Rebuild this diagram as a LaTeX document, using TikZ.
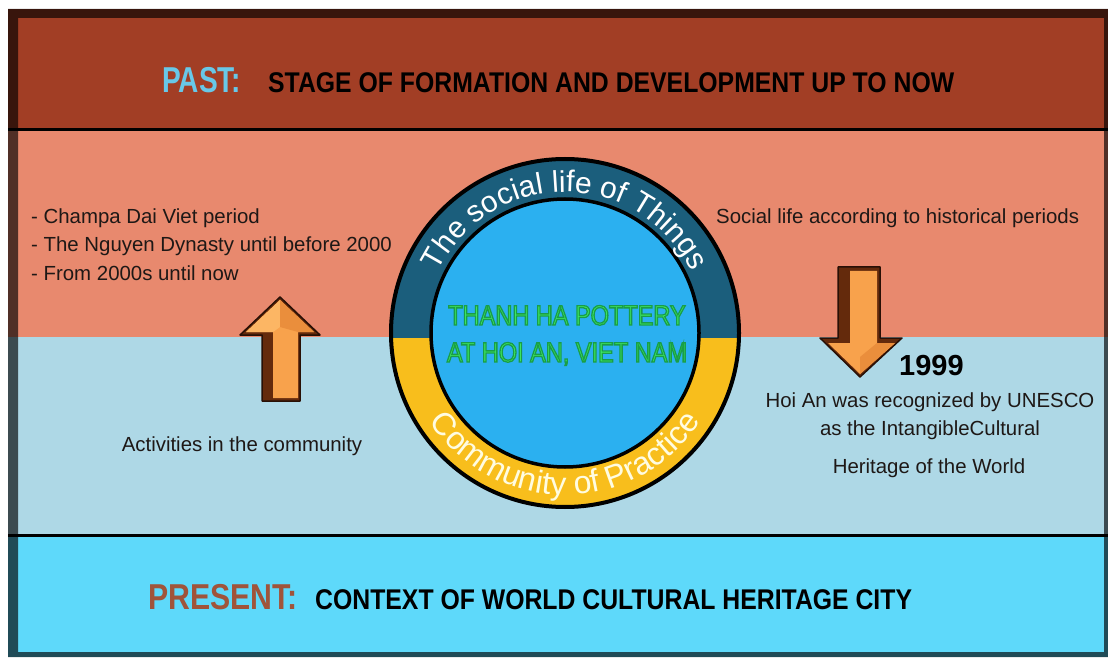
\documentclass[tikz,border=0pt]{standalone}
\usepackage{fontspec}
\setmainfont{Liberation Sans}
\newfontfamily\tagpast[FakeStretch=0.78]{Liberation Sans Bold}
\newfontfamily\tagpresent[FakeStretch=0.84]{Liberation Sans Bold}
\newfontfamily\narrowbf[FakeStretch=0.87]{Liberation Sans Bold}
\newfontfamily\potfont[FakeStretch=0.84]{Liberation Sans}
\usetikzlibrary{decorations.text}

% outlined lettering: fill with the current colour, stroke in dark green
\newcommand{\edgedtext}[1]{\special{pdf:literal direct 2 Tr 1.3 w 0.1 0.62 0.28 RG}#1\special{pdf:literal direct 0 Tr}}

\definecolor{pastband}{RGB}{162,62,37}
\definecolor{salmon}{RGB}{232,137,110}
\definecolor{paleblue}{RGB}{174,216,230}
\definecolor{cyanband}{RGB}{94,217,250}
\definecolor{ringteal}{RGB}{27,94,124}
\definecolor{ringgold}{RGB}{248,190,28}
\definecolor{poolblue}{RGB}{43,176,240}
\definecolor{potgreen}{RGB}{66,240,102}
\definecolor{pastcol}{RGB}{104,200,232}
\definecolor{presentcol}{RGB}{160,84,58}
\definecolor{bodyink}{RGB}{30,24,22}
\definecolor{rimbrown}{RGB}{100,42,12}
\definecolor{rimline}{RGB}{40,16,6}
\definecolor{faceorange}{RGB}{248,162,76}
\definecolor{facelight}{RGB}{252,182,100}
\definecolor{faceshade}{RGB}{234,142,60}
\definecolor{creamtext}{RGB}{255,252,225}

\begin{document}
\begin{tikzpicture}[x=1pt,y=1pt,
  bodytext/.style={font=\fontsize{20.4}{24}\selectfont, text=bodyink, inner sep=0pt},
  headtag/.style={inner sep=0pt, anchor=base west},
  headtext/.style={font=\narrowbf\fontsize{28.5}{32}\selectfont, inner sep=0pt, anchor=base west, text=black},
  pottext/.style={font=\potfont\fontsize{28}{30}\selectfont, inner sep=0pt, anchor=base, text=potgreen},
  arrowrim/.style={fill=rimbrown, draw=rimline, line width=1.5pt, line join=round},
  arrowface/.style={fill=faceorange},
  rule/.style={line width=3pt, draw=black}
]
\useasboundingbox (0,0) rectangle (1108,657);
\fill[white] (0,0) rectangle (1108,657);

% horizontal bands
\fill[pastband] (8,527) rectangle (1108,648);
\fill[salmon] (8,320) rectangle (1108,527);
\fill[paleblue] (8,122) rectangle (1108,320);
\fill[cyanband] (8,0) rectangle (1108,122);
\coordinate (r1w) at (8,527); \coordinate (r1e) at (1108,527);
\coordinate (r2w) at (8,122); \coordinate (r2e) at (1108,122);
\draw[rule] (r1w) -- (r1e);
\draw[rule] (r2w) -- (r2e);

% darkened frame
\fill[black, opacity=0.65, even odd rule] (8,0) rectangle (1108,648) (18,5) rectangle (1104,639);

% titles
\node[headtag, font=\tagpast\fontsize{36}{40}\selectfont, text=pastcol] (pasttag) at (162,564) {PAST:};
\node[headtext] (pasttext) at (268,564) {STAGE OF FORMATION AND DEVELOPMENT UP TO NOW};
\node[headtag, font=\tagpresent\fontsize{36}{40}\selectfont, text=presentcol] (presenttag) at (148,48) {PRESENT:};
\node[headtext] (presenttext) at (315,48) {CONTEXT OF WORLD CULTURAL HERITAGE CITY};

% central ring
\coordinate (c) at (565,324);
\fill[ringgold] (c) circle[radius=174];
\begin{scope}
  \clip (380,320) rectangle (750,520);
  \fill[ringteal] (c) circle[radius=174];
\end{scope}
\draw[line width=4pt] (c) circle[radius=174];
\fill[poolblue] (c) circle[radius=134];
\draw[line width=3.5pt] (c) circle[radius=134];

\path[decorate, decoration={text along path, text align=center,
  text={|\fontsize{30}{31}\selectfont\color{white}|The social life of Things}}]
  ([xshift=-141pt]c) arc[start angle=180, end angle=0, radius=141];
\path[decorate, decoration={text along path, text align=center,
  text={|\fontsize{32}{33}\selectfont\color{creamtext}|Community of Practice}}]
  ([xshift=-162pt]c) arc[start angle=180, end angle=360, radius=162];

% centre title
\node[pottext] (pot1) at (567,332) {\edgedtext{THANH HA POTTERY}};
\node[pottext] (pot2) at (567,295) {\edgedtext{AT HOI AN, VIET NAM}};

% left column
\node[bodytext, anchor=base west] (l1) at (31,433) {- Champa Dai Viet period};
\node[bodytext, anchor=base west] (l2) at (31,405) {- The Nguyen Dynasty until before 2000};
\node[bodytext, anchor=base west] (l3) at (31,377) {- From 2000s until now};
\node[bodytext, anchor=base] (act) at (242,206) {Activities in the community};

% right column
\node[bodytext, anchor=base west] (soc) at (716,433) {Social life according to historical periods};
\node[font=\bfseries\fontsize{29}{30}\selectfont, text=black, inner sep=0pt, anchor=base west] (yr) at (899,282) {1999};
\node[bodytext, anchor=base] (h1) at (930,250) {Hoi An was recognized by UNESCO};
\node[bodytext, anchor=base] (h2) at (930,222) {as the IntangibleCultural};
\node[bodytext, anchor=base] (h3) at (929,184) {Heritage of the World};

% up arrow
\filldraw[arrowrim] (262,256) -- (300,256) -- (300,322) -- (320,322) -- (280,360) -- (240,322) -- (262,322) -- cycle;
\fill[arrowface] (273,259) -- (298,259) -- (298,325) -- (314,325) -- (280,357) -- (246,325) -- (273,325) -- cycle;
\fill[facelight] (280,357) -- (246,325) -- (273,325) -- (280,330) -- cycle;
\fill[faceshade] (280,357) -- (314,325) -- (298,325) -- (280,330) -- cycle;

% down arrow
\filldraw[arrowrim] (838,390) -- (880,390) -- (880,319) -- (902,319) -- (860,280) -- (820,319) -- (838,319) -- cycle;
\fill[arrowface] (850,386) -- (877,386) -- (877,314) -- (895,314) -- (860,283) -- (828,314) -- (850,314) -- cycle;
\fill[faceshade] (860,283) -- (895,314) -- (877,314) -- (860,300) -- cycle;
\end{tikzpicture}
\end{document}
